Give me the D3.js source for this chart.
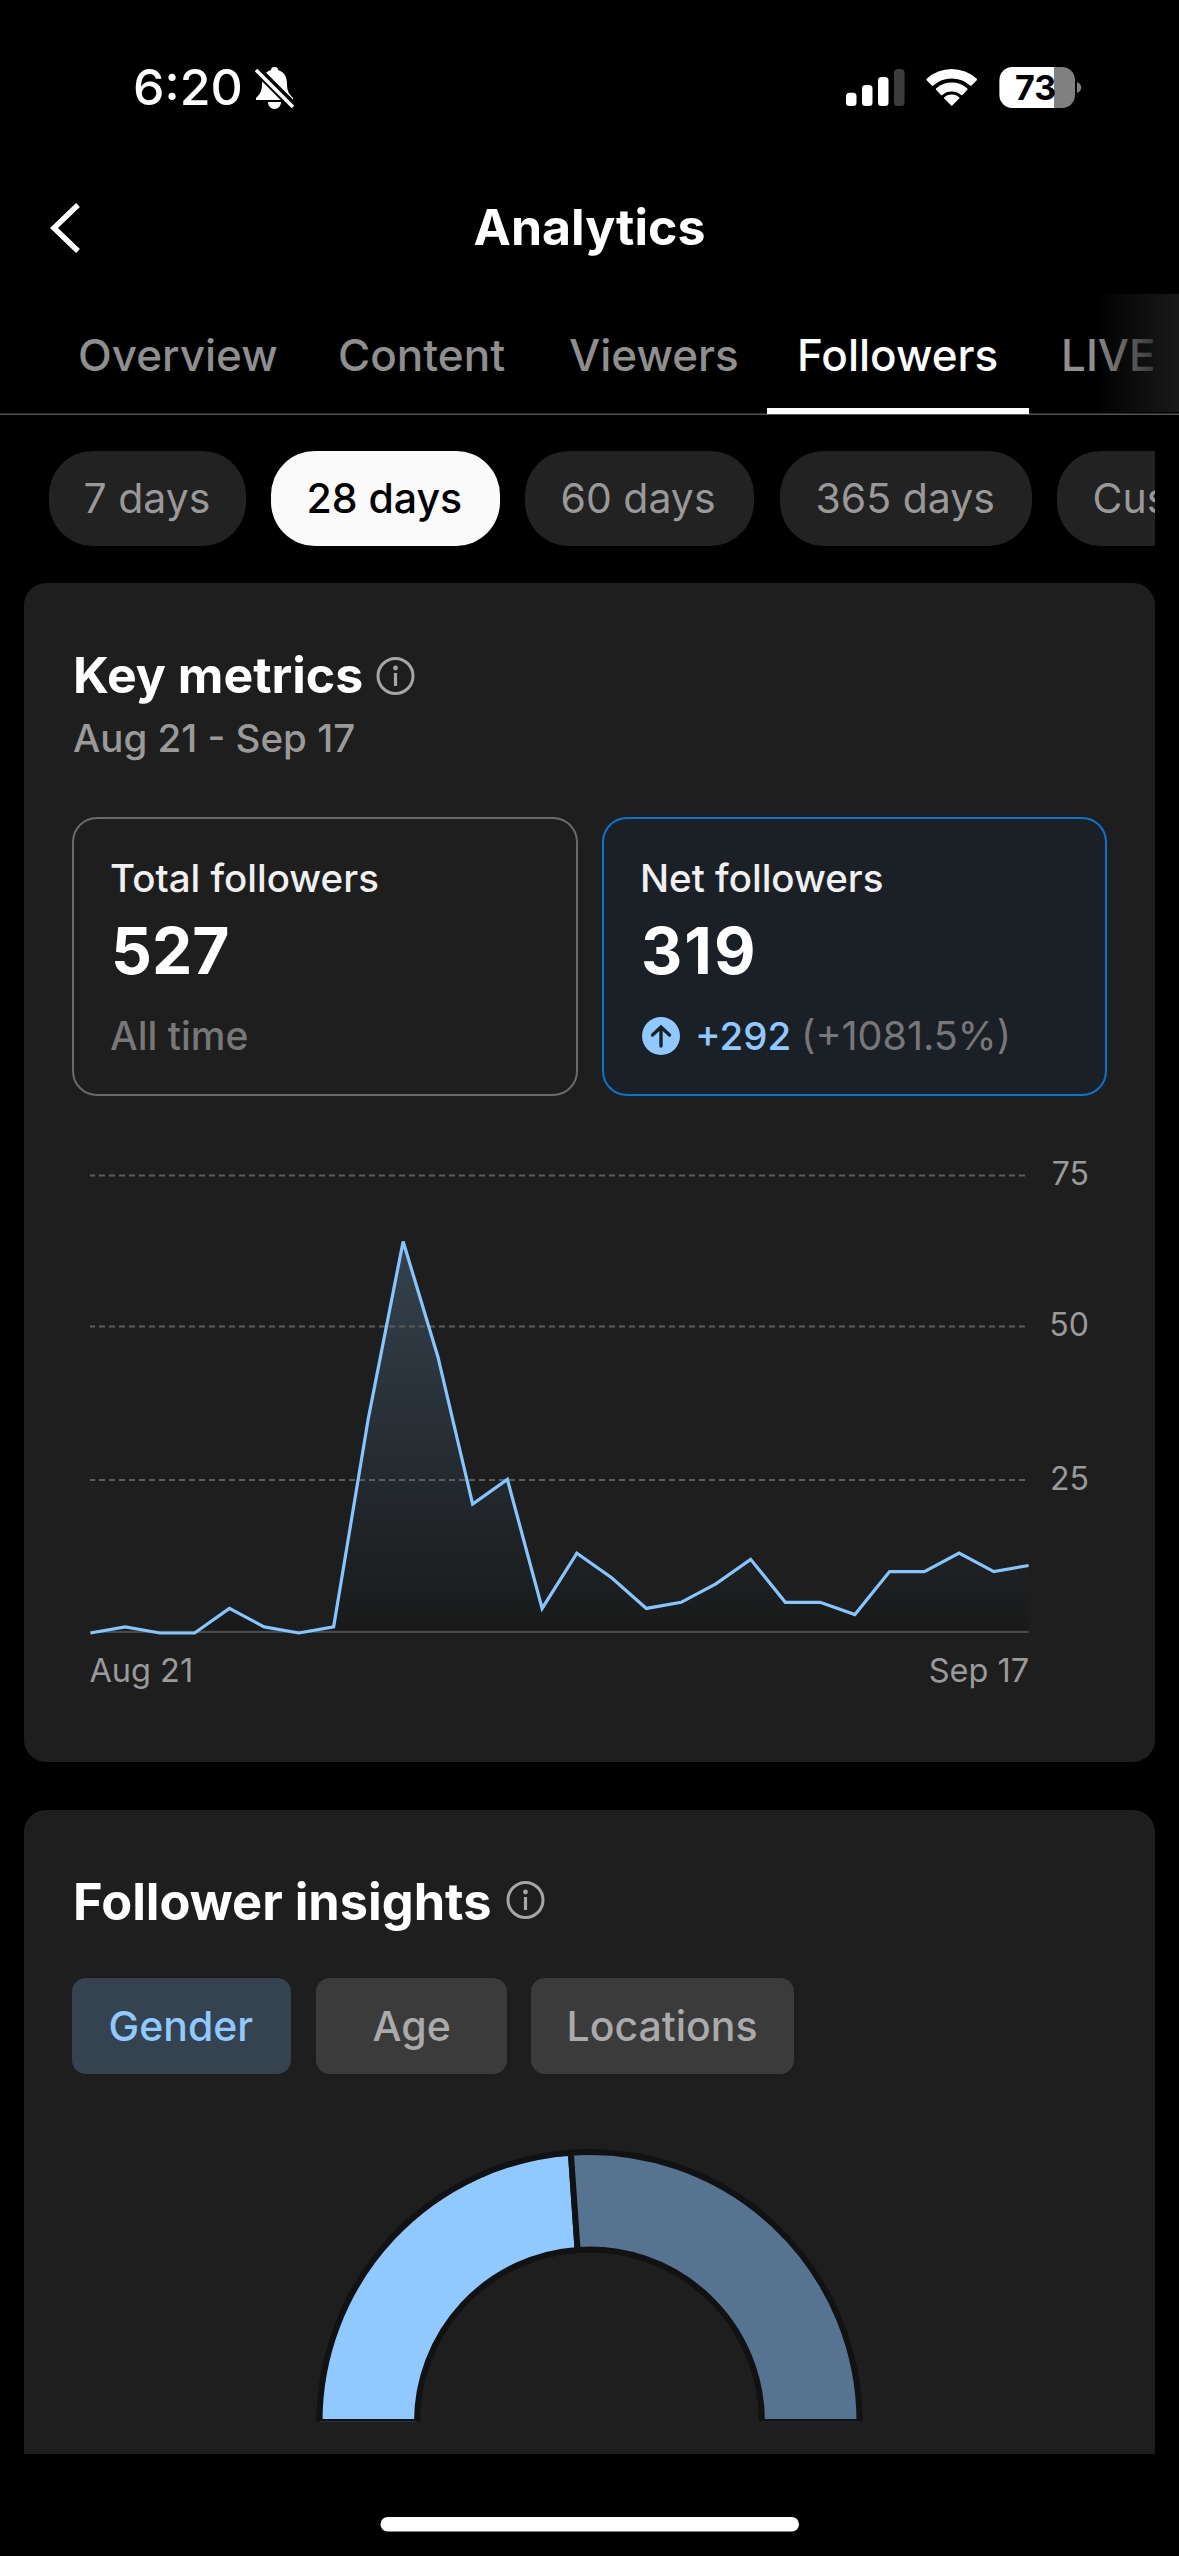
<!DOCTYPE html>
<html>
<head>
<meta charset="utf-8">
<script src="https://cdn.jsdelivr.net/npm/d3@7"></script>
<style>
  html, body { margin: 0; background: #000; }
  svg { display: block; }
  text { font-family: Inter, "Noto Sans", sans-serif; }
</style>
</head>
<body>
<svg id="screen" width="1179" height="2556"></svg>
<script>
// chart data
const days = ["Aug 21","Aug 22","Aug 23","Aug 24","Aug 25","Aug 26","Aug 27","Aug 28","Aug 29","Aug 30","Aug 31",
  "Sep 1","Sep 2","Sep 3","Sep 4","Sep 5","Sep 6","Sep 7","Sep 8","Sep 9","Sep 10","Sep 11","Sep 12","Sep 13","Sep 14","Sep 15","Sep 16","Sep 17"];
const netFollowers = [0,1,0,0,4,1,0,1,35,64,45,21,25,4,13,9,4,5,8,12,5,5,3,10,10,13,10,11];
const yTicks = [25, 50, 75];
const xTicks = ["Aug 21", "Sep 17"];
const genderLabels = ["Female", "Male"];
const genderShares = [47.8, 52.2];

// screen text
const navTabs = ["Overview", "Content", "Viewers", "Followers", "LIVE"];
const activeTab = "Followers";
const rangePills = ["7 days", "28 days", "60 days", "365 days", "Custom"];
const activePill = "28 days";
const insightTabs = ["Gender", "Age", "Locations"];

const svg = d3.select("#screen");
const defs = svg.append("defs");

function label(parent, x, y, str, size, color, weight = 400, anchor = "start") {
  return parent.append("text")
    .attr("x", x).attr("y", y)
    .attr("font-size", size)
    .attr("font-weight", weight)
    .attr("fill", color)
    .attr("text-anchor", anchor)
    .text(str);
}

function rrect(parent, x, y, w, h, r, fill) {
  return parent.append("rect")
    .attr("x", x).attr("y", y)
    .attr("width", w).attr("height", h)
    .attr("rx", r).attr("fill", fill);
}

function infoIcon(cx, cy) {
  const g = svg.append("g").attr("transform", `translate(${cx},${cy})`);
  g.append("circle").attr("r", 17.5).attr("fill", "none").attr("stroke", "#a6a6a6").attr("stroke-width", 3);
  g.append("circle").attr("cy", -8).attr("r", 2.4).attr("fill", "#a6a6a6");
  g.append("rect").attr("x", -1.6).attr("y", -3).attr("width", 3.2).attr("height", 13).attr("fill", "#a6a6a6");
}

// status bar
label(svg, 133, 105, "6:20", 50, "#fff", 500);
const bell = svg.append("g").attr("transform", "translate(255,67)");
bell.append("path")
  .attr("d", "M20 0c2 0 3 1 3 3 7 2 9 8 9 14 0 7 2 10 6 14v2H1v-2c4-4 6-7 6-14 0-6 2-12 9-14 0-2 1-3 4-3zM13 35h13c0 4-3 7-6.500 7s-6.500-3-6.500-7z")
  .attr("fill", "#fff");
bell.append("line").attr("x1", -1).attr("y1", 0).attr("x2", 40).attr("y2", 41).attr("stroke", "#000").attr("stroke-width", 9);
bell.append("line").attr("x1", 1).attr("y1", 3).attr("x2", 38).attr("y2", 40).attr("stroke", "#fff").attr("stroke-width", 3.6);

[[846, 92.7, "#fff"], [862, 85, "#fff"], [878, 77, "#fff"], [894, 69, "#3c3c3c"]].forEach(([x, top, c]) => {
  rrect(svg, x, top, 10.5, 106 - top, 3.5, c);
});

const wifi = svg.append("g").attr("transform", "translate(951.7,106)");
[[37, 27.5], [23.5, 14.5]].forEach(([o, i]) => {
  wifi.append("path")
    .attr("d", d3.arc().innerRadius(i).outerRadius(o).startAngle(-0.77).endAngle(0.77).cornerRadius(1)())
    .attr("fill", "#fff");
});
wifi.append("path").attr("d", "M0 0L-8 -8A11 11 0 0 1 8 -8Z").attr("fill", "#fff");

defs.append("clipPath").attr("id", "batFull").append("rect").attr("x", 999).attr("y", 60).attr("width", 55).attr("height", 60);
rrect(svg, 999.5, 67, 75.5, 41, 13, "#808080");
rrect(svg, 999.5, 67, 75.5, 41, 13, "#fff").attr("clip-path", "url(#batFull)");
svg.append("path").attr("d", "M1077 82a7 6 0 0 1 0 11z").attr("fill", "#808080");
label(svg, 1015, 100, "73", 34, "#000", 700);

// nav header
svg.append("path").attr("d", "M78 205L54 228L78 251").attr("fill", "none").attr("stroke", "#fff").attr("stroke-width", 5.5);
label(svg, 589.5, 245, "Analytics", 50, "#fff", 700, "middle");

// tabs
const tabX = [78, 338, 569, 797, 1061];
navTabs.forEach((t, i) => {
  label(svg, tabX[i], 370.5, t, 44, t === activeTab ? "#fff" : "#8f8f8f", 500);
});
const fade = defs.append("linearGradient").attr("id", "tabFade");
fade.append("stop").attr("offset", "0").attr("stop-color", "#191919").attr("stop-opacity", 0.1);
fade.append("stop").attr("offset", "1").attr("stop-color", "#191919").attr("stop-opacity", 1);
svg.append("rect").attr("x", 1100).attr("y", 294).attr("width", 79).attr("height", 118).attr("fill", "url(#tabFade)");
svg.append("rect").attr("x", 0).attr("y", 413.5).attr("width", 1179).attr("height", 1.5).attr("fill", "#555");
svg.append("rect").attr("x", 767).attr("y", 408).attr("width", 262).attr("height", 6).attr("fill", "#fff");

// range pills
defs.append("clipPath").attr("id", "pillClip").append("rect").attr("x", 0).attr("y", 440).attr("width", 1155).attr("height", 120);
const pills = svg.append("g").attr("clip-path", "url(#pillClip)");
const pillX = [49, 271, 525, 780, 1057];
const pillW = [197, 229, 229, 252, 260];
const pillTextX = [83.5, 306.5, 560.5, 815.5, 1092.5];
rangePills.forEach((p, i) => {
  const on = p === activePill;
  rrect(pills, pillX[i], 451, pillW[i], 95, 44, on ? "#fafafa" : "#222");
  label(pills, pillTextX[i], 513, p, 41, on ? "#000" : "#999", on ? 500 : 400);
});

// key metrics card
rrect(svg, 24, 583, 1131, 1179, 22, "#1e1e1e");
label(svg, 73, 693, "Key metrics", 50, "#fff", 700);
infoIcon(395.5, 676);
label(svg, 73, 752, "Aug 21 - Sep 17", 38.5, "#9a9a9a", 500);

rrect(svg, 73, 818, 504, 277, 24, "none").attr("stroke", "#6a6a6a").attr("stroke-width", 2);
rrect(svg, 603, 818, 503, 277, 24, "#1b2027").attr("stroke", "#0c73d4").attr("stroke-width", 2);

label(svg, 110, 892, "Total followers", 38.5, "#f0f0f0", 500);
label(svg, 111, 973.5, "527", 64, "#fff", 700);
label(svg, 110, 1050, "All time", 39, "#777", 500);
label(svg, 640, 892, "Net followers", 38.5, "#f0f0f0", 500);
label(svg, 641, 973.5, "319", 64, "#fff", 700).attr("letter-spacing", 2);
svg.append("circle").attr("cx", 661).attr("cy", 1036).attr("r", 19).attr("fill", "#8fc9ff");
svg.append("path").attr("d", "M661 1046V1028M652.500 1035L661 1027L669.500 1035").attr("fill", "none").attr("stroke", "#1b2027").attr("stroke-width", 3.4).attr("stroke-linecap", "round");
label(svg, 695, 1050, "+292", 38.5, "#8fc9ff", 500);
label(svg, 801, 1050, "(+1081.5%)", 39.5, "#777");

// line chart
const x = d3.scalePoint().domain(days).range([90.4, 1028.6]);
// ticks in the picture are not quite evenly spaced, so the range follows them
const y = d3.scaleLinear().domain([0, 25, 50, 75]).range([1633, 1479.5, 1326, 1175]);
const chart = svg.append("g");

const areaFill = defs.append("linearGradient")
  .attr("id", "areaFill")
  .attr("gradientUnits", "userSpaceOnUse")
  .attr("x1", 0).attr("x2", 0)
  .attr("y1", y(d3.max(netFollowers))).attr("y2", y(0));
areaFill.append("stop").attr("offset", "0").attr("stop-color", "#35424e");
areaFill.append("stop").attr("offset", "1").attr("stop-color", "#191919");

chart.append("path")
  .datum(netFollowers)
  .attr("fill", "url(#areaFill)")
  .attr("d", d3.area().x((d, i) => x(days[i])).y0(y(0) - 1).y1(d => y(d)));

// grid
const grid = chart.append("g")
  .attr("transform", "translate(1025,0)")
  .call(d3.axisLeft(y).tickValues(yTicks).tickSize(935).tickFormat(""));
grid.select(".domain").remove();
grid.selectAll("line").attr("stroke", "#5c5c5c").attr("stroke-width", 2).attr("stroke-dasharray", "6,4");

const yAxis = chart.append("g")
  .attr("transform", "translate(1089,-0.7)")
  .call(d3.axisLeft(y).tickValues(yTicks).tickSize(0).tickPadding(0));
yAxis.select(".domain").remove();
yAxis.selectAll("text")
  .attr("font-size", 32).attr("fill", "#9a9a9a").attr("font-family", "Inter").attr("dy", "0.33em");

chart.append("rect")
  .attr("x", 90.4).attr("y", y(0) - 2.2)
  .attr("width", 938.2).attr("height", 2.2).attr("fill", "#4a4a4a");

chart.append("path")
  .datum(netFollowers)
  .attr("fill", "none")
  .attr("stroke", "#84c6ff")
  .attr("stroke-width", 3.2)
  .attr("d", d3.line().x((d, i) => x(days[i])).y(d => y(d)));

const xAxis = chart.append("g")
  .attr("transform", "translate(0,1682)")
  .call(d3.axisBottom(x).tickValues(xTicks).tickSize(0).tickPadding(0));
xAxis.select(".domain").remove();
xAxis.selectAll("text")
  .attr("y", 0).attr("dy", 0)
  .attr("dx", d => d === xTicks[0] ? -1.5 : 0)
  .attr("font-size", 32.5).attr("fill", "#9a9a9a").attr("font-family", "Inter")
  .attr("text-anchor", d => d === xTicks[0] ? "start" : "end");

// follower insights card, runs off the bottom of the list
defs.append("clipPath").attr("id", "listClip").append("rect").attr("x", 0).attr("y", 1780).attr("width", 1179).attr("height", 674);
rrect(svg.append("g").attr("clip-path", "url(#listClip)"), 24, 1810, 1131, 720, 22, "#1e1e1e");
label(svg, 73, 1919.5, "Follower insights", 50.5, "#fff", 700);
infoIcon(525.5, 1900);

const insightX = [72, 316, 531];
const insightW = [219, 191, 263];
const insightTextX = [108.5, 372.5, 566.5];
insightTabs.forEach((t, i) => {
  rrect(svg, insightX[i], 1978, insightW[i], 96, 14, i === 0 ? "#35424f" : "#3b3b3b");
  label(svg, insightTextX[i], 2040.5, t, 41, i === 0 ? "#8fc9ff" : "#aaa", 500);
});

// half donut, the flat ends are cut just under the centre line
defs.append("clipPath").attr("id", "donutClip").append("rect").attr("x", 280).attr("y", 2130).attr("width", 620).attr("height", 291.7);
const pie = d3.pie().sort(null).startAngle(-Math.PI / 2).endAngle(Math.PI / 2);
const donutArc = d3.arc().innerRadius(172.5).outerRadius(270);
const donutColor = d3.scaleOrdinal().domain(genderLabels).range(["#8fc9ff", "#567491"]);
svg.append("g").attr("clip-path", "url(#donutClip)")
  .append("g")
  .attr("transform", "translate(589.5,2422)")
  .selectAll("path")
  .data(pie(genderShares))
  .join("path")
  .attr("d", donutArc)
  .attr("fill", (d, i) => donutColor(genderLabels[i]))
  .attr("stroke", "#121212")
  .attr("stroke-width", 6);

// home indicator
rrect(svg, 380.5, 2517, 418.5, 14.5, 7.25, "#fff");
</script>
</body>
</html>
